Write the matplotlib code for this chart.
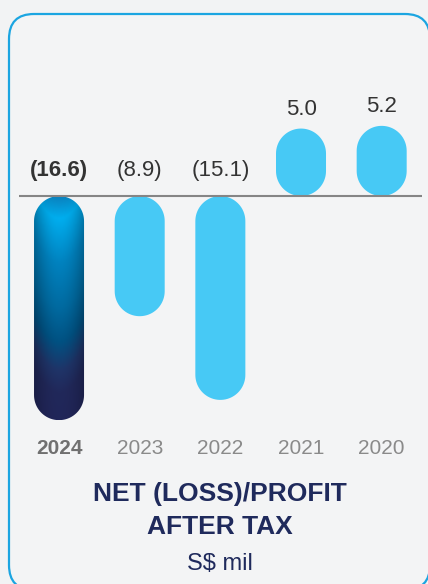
import numpy as np
import matplotlib
matplotlib.use("Agg")
import matplotlib.pyplot as plt
from matplotlib.patches import FancyBboxPatch, Polygon
from matplotlib.colors import LinearSegmentedColormap

years = ["2024", "2023", "2022", "2021", "2020"]
values = [-16.6, -8.9, -15.1, 5.0, 5.2]
labels = ["(16.6)", "(8.9)", "(15.1)", "5.0", "5.2"]

plt.rcParams["font.family"] = ["Liberation Sans", "DejaVu Sans"]

W, H = 428, 584
fig = plt.figure(figsize=(W / 100, H / 100), dpi=100)
fig.patch.set_facecolor("#f2f3f4")

# background layer in pixel coordinates for the rounded frame
bg = fig.add_axes([0, 0, 1, 1], zorder=0)
bg.set_xlim(0, W)
bg.set_ylim(H, 0)
bg.axis("off")
frame = FancyBboxPatch((9, 14), 421, 576, boxstyle="round,pad=0,rounding_size=25",
                       facecolor="#f3f4f5", edgecolor="#1ba5e1", linewidth=1.6)
bg.add_patch(frame)

# main chart axes
ax = fig.add_axes([18.7 / W, 1 - 429.6 / H, 403.3 / W, 399.6 / H], zorder=1)
ax.patch.set_alpha(0)
ax.set_xlim(-0.5, 4.5)
ax.set_ylim(-17.3, 12.3)
for s in ax.spines.values():
    s.set_visible(False)
ax.set_yticks([])
ax.axhline(0, color="#858585", linewidth=1.5, zorder=3)

p = ax.transData.transform([(0, 0), (1, 1)])
asp = (p[1, 0] - p[0, 0]) / (p[1, 1] - p[0, 1])

w = 0.62
x = np.arange(len(years))


def capsule(xc, v, **kw):
    # pill shape from 0 to v, semicircular ends in screen space
    rx = w / 2
    ry = rx * asp
    lo, hi = min(0, v), max(0, v)
    a = np.linspace(0, np.pi, 40)
    top = np.column_stack([xc + rx * np.cos(a), hi - ry + ry * np.sin(a)])
    bot = np.column_stack([xc - rx * np.cos(a), lo + ry - ry * np.sin(a)])
    return Polygon(np.vstack([top, bot]), closed=True, **kw)


# gradient colours for the 2024 bar
grad = LinearSegmentedColormap.from_list("g", [
    (0.0, "#0a80bd"), (0.1, "#00aeef"), (0.3, "#0082bf"), (0.5, "#006aa0"),
    (0.65, "#005283"), (0.78, "#1f3468"), (0.88, "#21285a"), (1.0, "#212659")])

for i, (xi, v) in enumerate(zip(x, values)):
    patch = capsule(xi, v, linewidth=0, facecolor="#47c9f5", zorder=2)
    ax.add_patch(patch)
    if i == 0:
        t = np.linspace(0, 1, 240)[:, None]
        u = np.linspace(-1, 1, 80)[None, :]
        field = np.clip(t + 0.12 * u ** 2, 0, 1)
        rgb = grad(field)[..., :3] * (1 - 0.22 * u[..., None] ** 2)
        img = ax.imshow(rgb, extent=(xi - w / 2, xi + w / 2, v, 0), origin="upper",
                        aspect="auto", zorder=2, interpolation="bilinear")
        img.set_clip_path(patch)
        patch.set_facecolor("none")

    if v < 0:
        ax.annotate(labels[i], (xi, 0), xytext=(0, 26), textcoords="offset pixels",
                    ha="center", va="center", fontsize=16, color="#333333",
                    fontweight="bold" if i == 0 else "normal")
    else:
        ax.annotate(labels[i], (xi, v), xytext=(0, 19), textcoords="offset pixels",
                    ha="center", va="center", fontsize=16, color="#333333")

ax.set_xticks(x, years)
ax.tick_params(axis="x", length=0, pad=7, labelsize=15, labelcolor="#8a8a8a")
ax.get_xticklabels()[0].set_fontweight("bold")
ax.get_xticklabels()[0].set_color("#707070")

navy = "#1f2a5c"
fig.text(220 / W, 1 - 494 / H, "NET (LOSS)/PROFIT", ha="center", va="center",
         fontsize=19, fontweight="bold", color=navy)
fig.text(220 / W, 1 - 527 / H, "AFTER TAX", ha="center", va="center",
         fontsize=19, fontweight="bold", color=navy)
fig.text(220 / W, 1 - 564 / H, "S$ mil", ha="center", va="center",
         fontsize=17, color=navy)

fig.savefig("out.png", dpi=100)
